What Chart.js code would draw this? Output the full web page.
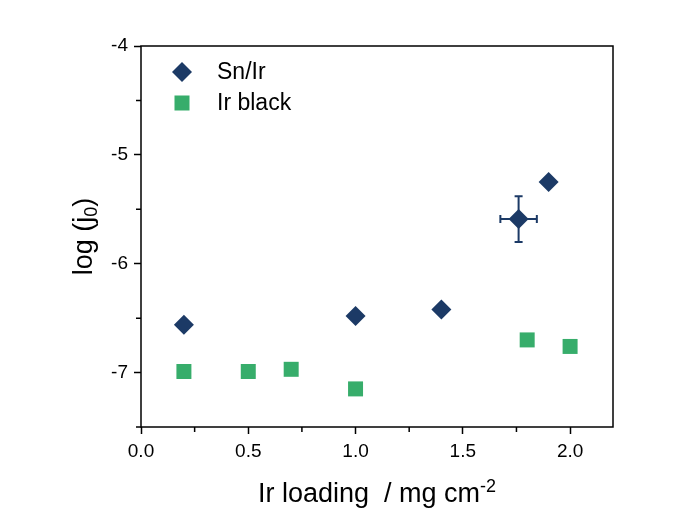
<!DOCTYPE html>
<html>
<head>
<meta charset="utf-8">
<script src="https://cdn.jsdelivr.net/npm/chart.js@4/dist/chart.umd.min.js"></script>
<style>
  html, body { margin: 0; padding: 0; background: #fff; }
</style>
</head>
<body>
<canvas id="chart-1" width="685" height="528"></canvas>
<script>
// data
var snIrX = [0.2, 1.0, 1.4, 1.76, 1.9];
var snIrY = [-6.56, -6.48, -6.42, -5.59, -5.25];
var snIrErrX = [0, 0, 0, 0.085, 0];
var snIrErrY = [0, 0, 0, 0.21, 0];
var irBlackX = [0.2, 0.5, 0.7, 1.0, 1.8, 2.0];
var irBlackY = [-6.99, -6.99, -6.97, -7.15, -6.70, -6.76];
var xTicks = [0.0, 0.5, 1.0, 1.5, 2.0];
var xMinor = [0.25, 0.75, 1.25, 1.75];
var yTicks = [-7, -6, -5, -4];
var yMinor = [-7.5, -6.5, -5.5, -4.5];

var NAVY = "#1c3a66";
var GREEN = "#37ad6b";
var FONT = "Arial, 'Liberation Sans', sans-serif";

function pts(xs, ys) {
  return xs.map(function (x, i) { return { x: x, y: ys[i] }; });
}

// draws a list of [text, size, shift] runs centred on 0,0 of the current transform
function runs(ctx, parts) {
  var w = 0;
  parts.forEach(function (p) { ctx.font = p[1] + "px " + FONT; w += ctx.measureText(p[0]).width; });
  var cx = -w / 2;
  parts.forEach(function (p) {
    ctx.font = p[1] + "px " + FONT;
    ctx.fillText(p[0], cx, p[2]);
    cx += ctx.measureText(p[0]).width;
  });
}

var extras = {
  id: "extras",
  beforeDatasetsDraw: function (chart) {
    var ctx = chart.ctx, x = chart.scales.x, y = chart.scales.y;
    ctx.save();
    ctx.strokeStyle = NAVY;
    ctx.lineWidth = 2;
    snIrX.forEach(function (v, i) {
      var px = x.getPixelForValue(v), py = y.getPixelForValue(snIrY[i]);
      var cap = 4;
      if (snIrErrY[i]) {
        var t = y.getPixelForValue(snIrY[i] + snIrErrY[i]);
        var b = y.getPixelForValue(snIrY[i] - snIrErrY[i]);
        ctx.beginPath();
        ctx.moveTo(px, t); ctx.lineTo(px, b);
        ctx.moveTo(px - cap, t); ctx.lineTo(px + cap, t);
        ctx.moveTo(px - cap, b); ctx.lineTo(px + cap, b);
        ctx.stroke();
      }
      if (snIrErrX[i]) {
        var l = x.getPixelForValue(v - snIrErrX[i]);
        var r = x.getPixelForValue(v + snIrErrX[i]);
        ctx.beginPath();
        ctx.moveTo(l, py); ctx.lineTo(r, py);
        ctx.moveTo(l, py - cap); ctx.lineTo(l, py + cap);
        ctx.moveTo(r, py - cap); ctx.lineTo(r, py + cap);
        ctx.stroke();
      }
    });
    ctx.restore();
  },
  afterDraw: function (chart) {
    var ctx = chart.ctx, a = chart.chartArea, x = chart.scales.x, y = chart.scales.y;
    ctx.save();
    // frame
    ctx.strokeStyle = "#000";
    ctx.lineWidth = 1.5;
    ctx.strokeRect(a.left, a.top, a.right - a.left, a.bottom - a.top);
    // minor ticks
    ctx.beginPath();
    xMinor.forEach(function (v) {
      var px = x.getPixelForValue(v);
      ctx.moveTo(px, a.bottom); ctx.lineTo(px, a.bottom + 5);
    });
    yMinor.forEach(function (v) {
      var py = y.getPixelForValue(v);
      ctx.moveTo(a.left, py); ctx.lineTo(a.left - 5, py);
    });
    ctx.stroke();
    // legend
    var lx = a.left + 41;
    ctx.fillStyle = NAVY;
    ctx.beginPath();
    ctx.moveTo(lx - 10, 72); ctx.lineTo(lx, 62); ctx.lineTo(lx + 10, 72); ctx.lineTo(lx, 82);
    ctx.closePath();
    ctx.fill();
    ctx.fillStyle = GREEN;
    ctx.fillRect(lx - 7.5, 95.5, 15, 15);
    ctx.fillStyle = "#000";
    ctx.font = "23px " + FONT;
    ctx.textBaseline = "middle";
    ctx.fillText(chart.data.datasets[0].label, lx + 35, 73);
    ctx.fillText(chart.data.datasets[1].label, lx + 35, 104);
    // axis titles with sub/superscripts
    ctx.textBaseline = "alphabetic";
    ctx.save();
    ctx.translate((a.left + a.right) / 2, 502);
    runs(ctx, [["Ir loading  / mg cm", 27, 0], ["-2", 18, -10]]);
    ctx.restore();
    ctx.save();
    ctx.translate(92, (a.top + a.bottom) / 2);
    ctx.rotate(-Math.PI / 2);
    runs(ctx, [["log (j", 27, 0], ["0", 18, 5], [")", 27, 0]]);
    ctx.restore();
    ctx.restore();
  }
};

var myChart1 = new Chart(document.getElementById("chart-1"), {
  type: "scatter",
  data: {
    datasets: [{
      label: "Sn/Ir",
      data: pts(snIrX, snIrY),
      pointStyle: "rectRot",
      pointRadius: 10,
      pointHoverRadius: 10,
      backgroundColor: NAVY,
      borderColor: NAVY,
      borderWidth: 0
    }, {
      label: "Ir black",
      data: pts(irBlackX, irBlackY),
      pointStyle: "rect",
      pointRadius: 10.6,
      pointHoverRadius: 10.6,
      backgroundColor: GREEN,
      borderColor: GREEN,
      borderWidth: 0
    }]
  },
  options: {
    responsive: false,
    animation: false,
    devicePixelRatio: 1,
    layout: { padding: { left: 0, right: 72, top: 46, bottom: 0 } },
    plugins: {
      legend: { display: false },
      tooltip: { enabled: false }
    },
    scales: {
      x: {
        type: "linear",
        min: 0,
        max: 2.2,
        afterFit: function (s) { s.height = 101; },
        afterBuildTicks: function (s) { s.ticks = xTicks.map(function (v) { return { value: v }; }); },
        border: { display: false },
        grid: { drawOnChartArea: false, drawTicks: true, tickLength: 7, tickWidth: 1.5, tickColor: "#000" },
        ticks: {
          padding: 6,
          color: "#000",
          font: { family: FONT, size: 19 },
          callback: function (v) { return v.toFixed(1); }
        }
      },
      y: {
        type: "linear",
        min: -7.5,
        max: -4,
        afterFit: function (s) { s.width = 141; },
        afterBuildTicks: function (s) { s.ticks = yTicks.map(function (v) { return { value: v }; }); },
        border: { display: false },
        grid: { drawOnChartArea: false, drawTicks: true, tickLength: 7, tickWidth: 1.5, tickColor: "#000" },
        ticks: {
          padding: 6,
          color: "#000",
          font: { family: FONT, size: 19 },
          callback: function (v) { return String(v); }
        }
      }
    }
  },
  plugins: [extras]
});
</script>
</body>
</html>
